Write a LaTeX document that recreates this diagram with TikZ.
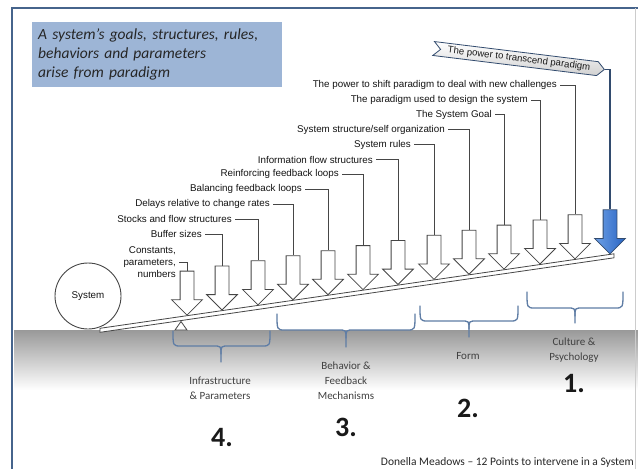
\documentclass[tikz,border=0pt]{standalone}
\usepackage{fontspec}
\setmainfont{Liberation Sans}
\newfontfamily\calibri{Carlito}
\usetikzlibrary{shapes.arrows,shapes.symbols}

\definecolor{framecol}{RGB}{70,100,140}
\definecolor{boxcol}{RGB}{157,181,214}
\definecolor{bracecol}{RGB}{95,125,165}
\definecolor{linecol}{RGB}{70,70,70}
\definecolor{bluelink}{RGB}{50,75,110}
\definecolor{bluetop}{RGB}{110,160,230}
\definecolor{bluebot}{RGB}{40,100,195}

\begin{document}
\begin{tikzpicture}[x=1pt, y=-1pt,
  hollow/.style={single arrow, draw=linecol, line width=0.8pt, fill=white,
    minimum height=44pt, minimum width=30pt, single arrow head extend=8.5pt,
    inner xsep=0pt, inner ysep=6.5pt, rotate=-90, anchor=tip},
  lever/.style={font=\fontsize{9.8}{12}\selectfont, text=black!92, inner sep=3pt, anchor=east},
  link/.style={draw=linecol, line width=0.8pt},
  grpbrace/.style={draw=bracecol, line width=1.3pt, line cap=round},
  grplabel/.style={font=\calibri\fontsize{11}{15}\selectfont, text=black!75, align=center},
  grpnum/.style={font=\calibri\bfseries\fontsize{28}{30}\selectfont, text=black!90}]
  \useasboundingbox (0, 0) rectangle (638, 469);
  \fill[white] (0, 0) rectangle (638, 469);
  \shade[top color=black!40, bottom color=white] (14, 330) rectangle (638, 390);
  \draw[framecol, line width=1.5pt] (12, 469) -- (12, 8) -- (638, 8);
  \draw[black!20, line width=0.6pt] (635, 8) -- (635, 469);

  \node (paradigm) at (32, 22) [anchor=north west, fill=boxcol, minimum width=250pt, minimum height=65pt,
    text width=238pt, inner xsep=6pt, align=left, font=\calibri\itshape\fontsize{15.5}{19}\selectfont,
    text=black!85] {A system’s goals, structures, rules,\\behaviors and parameters\\arise from paradigm};

  \draw[linecol, line width=0.8pt, fill=white] (100, 328.3) -- (614, 253.8) -- (614, 257.8) -- (100, 332.3) -- cycle;
  \draw[linecol, line width=0.8pt, fill=white] (175, 330) -- (181, 321.5) -- (187, 330) -- cycle;
  \node (sys) at (88, 296) [circle, draw=linecol, line width=0.9pt, fill=white, minimum size=66pt,
    font=\fontsize{9.8}{12}\selectfont, text=black!92] {System};

  \node (arr1) at (187, 315.7) [hollow] {};
  \node (arr2) at (222, 310.6) [hollow] {};
  \node (arr3) at (258, 305.4) [hollow] {};
  \node (arr4) at (293, 300.3) [hollow] {};
  \node (arr5) at (328, 295.3) [hollow] {};
  \node (arr6) at (363, 290.2) [hollow] {};
  \node (arr7) at (398, 285.1) [hollow] {};
  \node (arr8) at (434, 279.9) [hollow] {};
  \node (arr9) at (469, 274.8) [hollow] {};
  \node (arr10) at (504, 269.7) [hollow] {};
  \node (arr11) at (540, 264.5) [hollow] {};
  \node (arr12) at (575, 259.4) [hollow] {};
  \node (arr13) at (610, 254.4) [hollow, draw=bluelink, left color=bluetop, right color=bluebot] {};

  \node (lbl1) at (179, 262) [lever, align=right] {Constants,\\parameters,\\numbers};
  \node (lbl2) at (205, 234) [lever] {Buffer sizes};
  \node (lbl3) at (235, 219.1) [lever] {Stocks and flow structures};
  \node (lbl4) at (273, 204.2) [lever] {Delays relative to change rates};
  \node (lbl5) at (305, 189.3) [lever] {Balancing feedback loops};
  \node (lbl6) at (342, 174.4) [lever] {Reinforcing feedback loops};
  \node (lbl7) at (376, 159.5) [lever] {Information flow structures};
  \node (lbl8) at (414, 144.6) [lever] {System rules};
  \node (lbl9) at (448, 129.7) [lever] {System structure/self organization};
  \node (lbl10) at (495, 114.8) [lever] {The System Goal};
  \node (lbl11) at (531, 99.9) [lever] {The paradigm used to design the system};
  \node (lbl12) at (560, 85) [lever] {The power to shift paradigm to deal with new challenges};
  \node (banner) at (519, 59) [signal, signal to=east, signal from=west, draw=bluelink, line width=0.8pt,
    rotate=-7, minimum width=172pt, minimum height=14pt, inner sep=1pt, top color=white,
    bottom color=black!18, font=\fontsize{9.6}{11}\selectfont, text=black!90] {The power to transcend paradigm};

  \draw[link] (lbl1.east) -| (arr1.tail);
  \draw[link] (lbl2.east) -| (arr2.tail);
  \draw[link] (lbl3.east) -| (arr3.tail);
  \draw[link] (lbl4.east) -| (arr4.tail);
  \draw[link] (lbl5.east) -| (arr5.tail);
  \draw[link] (lbl6.east) -| (arr6.tail);
  \draw[link] (lbl7.east) -| (arr7.tail);
  \draw[link] (lbl8.east) -| (arr8.tail);
  \draw[link] (lbl9.east) -| (arr9.tail);
  \draw[link] (lbl10.east) -| (arr10.tail);
  \draw[link] (lbl11.east) -| (arr11.tail);
  \draw[link] (lbl12.east) -| (arr12.tail);
  \draw[bluelink, line width=1.6pt] (banner.east) -| (arr13.tail);

  \draw[grpbrace] (173, 331) .. controls (173, 346) .. (181, 346) -- (213, 346) .. controls (221, 346) .. (221, 354) -- (221, 362);
  \draw[grpbrace] (270, 331) .. controls (270, 346) .. (262, 346) -- (229, 346) .. controls (221, 346) .. (221, 354);
  \draw[grpbrace] (277, 314) .. controls (277, 330) .. (285, 330) -- (338, 330) .. controls (346, 330) .. (346, 338) -- (346, 347);
  \draw[grpbrace] (415, 314) .. controls (415, 330) .. (407, 330) -- (354, 330) .. controls (346, 330) .. (346, 338);
  \draw[grpbrace] (420, 306) .. controls (420, 321) .. (428, 321) -- (461, 321) .. controls (469, 321) .. (469, 329) -- (469, 337);
  \draw[grpbrace] (518, 306) .. controls (518, 321) .. (510, 321) -- (477, 321) .. controls (469, 321) .. (469, 329);
  \draw[grpbrace] (527, 292) .. controls (527, 308) .. (535, 308) -- (567, 308) .. controls (575, 308) .. (575, 316) -- (575, 323);
  \draw[grpbrace] (623, 292) .. controls (623, 308) .. (615, 308) -- (583, 308) .. controls (575, 308) .. (575, 316);

  \node (infra) at (220, 388.5) [grplabel] {Infrastructure\\\& Parameters};
  \node (behav) at (346, 381) [grplabel] {Behavior \&\\Feedback\\Mechanisms};
  \node (form) at (468, 356) [grplabel] {Form};
  \node (cult) at (574, 350) [grplabel] {Culture \&\\Psychology};
  \node (n4) at (222, 438) [grpnum] {4.};
  \node (n3) at (346, 427) [grpnum] {3.};
  \node (n2) at (468, 408) [grpnum] {2.};
  \node (n1) at (574, 383) [grpnum] {1.};
  \node (credit) at (634, 462) [anchor=east, inner sep=0pt, font=\calibri\fontsize{11.5}{13}\selectfont,
    text=black!85] {Donella Meadows – 12 Points to intervene in a System};
\end{tikzpicture}
\end{document}
